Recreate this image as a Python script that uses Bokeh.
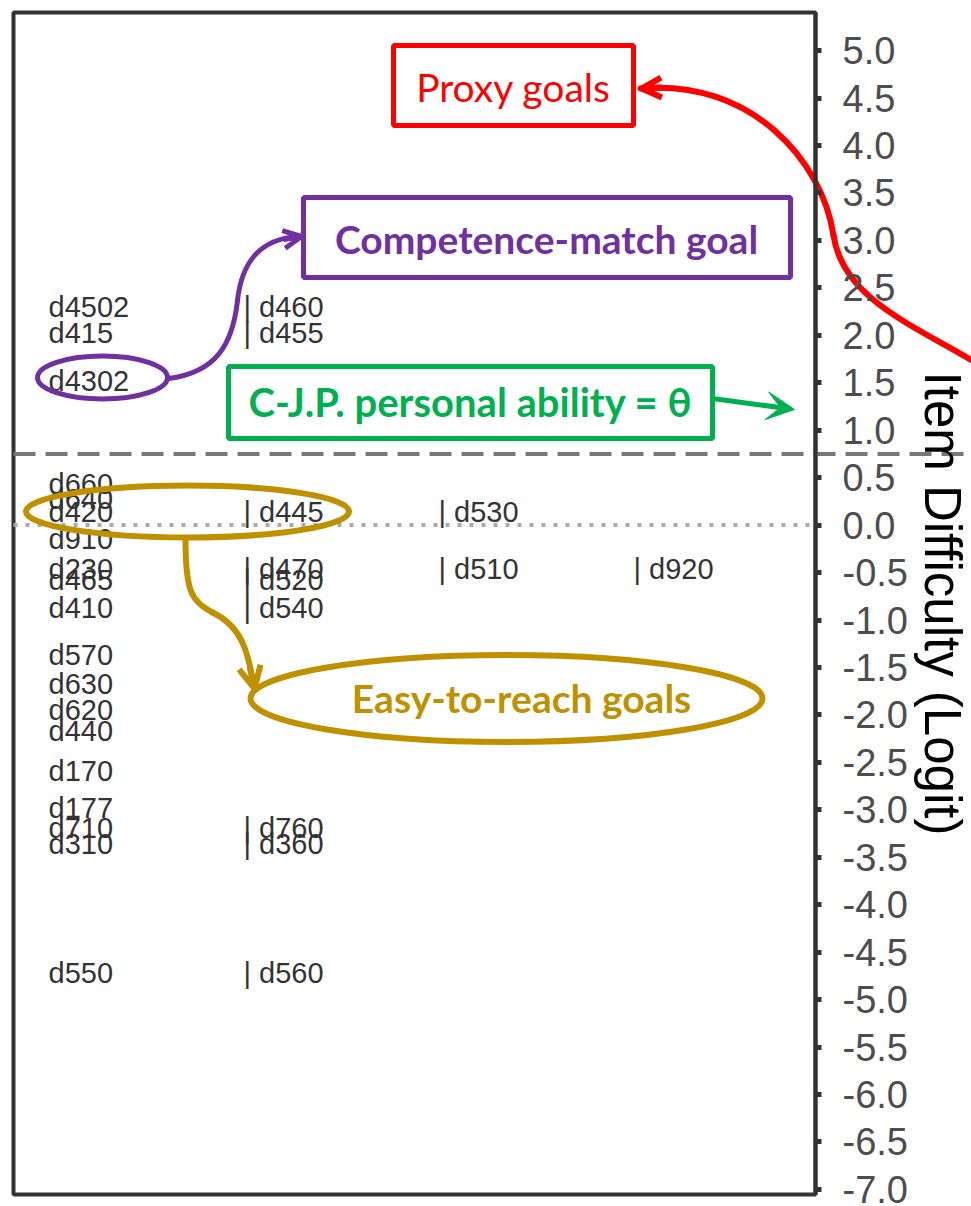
import numpy as np
from bokeh.plotting import figure
from bokeh.models import (Range1d, FixedTicker, PrintfTickFormatter, Label, Arrow,
                          OpenHead, VeeHead, ColumnDataSource)
from bokeh.core.properties import value
from bokeh.embed import file_html
from bokeh.resources import INLINE

# ---------------- data ----------------
col1_labels = ["d4502", "d415", "d4302", "d660", "d640", "d420", "d910", "d230", "d465",
               "d410", "d570", "d630", "d620", "d440", "d170", "d177", "d710", "d310", "d550"]
col1_logits = [2.30, 2.02, 1.52, 0.43, 0.28, 0.14, -0.15, -0.46, -0.58,
               -0.87, -1.37, -1.67, -1.95, -2.17, -2.59, -2.98, -3.19, -3.36, -4.72]
col2_labels = ["d460", "d455", "d445", "d470", "d520", "d540", "d760", "d360", "d560"]
col2_logits = [2.30, 2.02, 0.14, -0.46, -0.58, -0.87, -3.19, -3.36, -4.72]
col3_labels = ["d530", "d510"]
col3_logits = [0.14, -0.46]
col4_labels = ["d920"]
col4_logits = [-0.46]
person_ability = 0.75
zero_line = 0.0
tick_values = [5.0, 4.5, 4.0, 3.5, 3.0, 2.5, 2.0, 1.5, 1.0, 0.5, 0.0, -0.5, -1.0, -1.5,
               -2.0, -2.5, -3.0, -3.5, -4.0, -4.5, -5.0, -5.5, -6.0, -6.5, -7.0]
tick_labels = ["5.0", "4.5", "4.0", "3.5", "3.0", "2.5", "2.0", "1.5", "1.0", "0.5", "0.0",
               "-0.5", "-1.0", "-1.5", "-2.0", "-2.5", "-3.0", "-3.5", "-4.0", "-4.5",
               "-5.0", "-5.5", "-6.0", "-6.5", "-7.0"]

# ------------- helpers for annotation placement (page pixels -> data) -------------
def X(px):
    return (px - 48.0) / 195.0

def Y(py):
    return (524.6 - py) / 94.9

RED = "#ff0000"
PURPLE = "#7030a0"
GREEN = "#00b050"
GOLD = "#bf9000"
FRAME = "#333333"

p = figure(frame_width=971, frame_height=1206,
           x_range=Range1d(X(0), X(971)), y_range=Range1d(Y(1206), Y(0)),
           y_axis_location="right", x_axis_location=None,
           toolbar_location=None, output_backend="svg", min_border=0)
p.grid.visible = False
p.outline_line_color = None
p.background_fill_color = "white"
p.border_fill_color = "white"

# plot box (left / top / bottom borders; right side is the axis line)
p.quad(left=[X(13)], right=[X(815)], top=[Y(12)], bottom=[Y(1194)], fill_alpha=0,
       line_color=FRAME, line_width=4)

ax = p.yaxis[0]
ax.fixed_location = X(815)
ax.bounds = (Y(1194), Y(12))
ax.ticker = FixedTicker(ticks=tick_values)
ax.formatter = PrintfTickFormatter(format="%.1f")
ax.major_label_overrides = {v: l for v, l in zip(tick_values, tick_labels)}
ax.axis_line_width = 4
ax.axis_line_color = FRAME
ax.major_tick_line_width = 5
ax.major_tick_line_color = FRAME
ax.major_tick_out = 6
ax.major_tick_in = 0
ax.minor_tick_line_color = None
ax.major_label_standoff = 21
ax.major_label_text_font = "Liberation Sans"
ax.major_label_text_font_size = "38px"
ax.major_label_text_color = "#4d4d4d"

# reference lines
p.segment(x0=[X(13)], y0=[zero_line], x1=[X(815)], y1=[zero_line], line_color="#aaaaaa",
          line_width=4, line_dash="4 8")
p.segment(x0=[X(13)], y0=[person_ability], x1=[X(975)], y1=[person_ability],
          line_color="#777777", line_width=4, line_dash="22 10")

# item labels
cols = [(0, col1_labels, col1_logits, ""), (1, col2_labels, col2_logits, "| "),
        (2, col3_labels, col3_logits, "| "), (3, col4_labels, col4_logits, "| ")]
for ci, labs, vals, pre in cols:
    src = ColumnDataSource(dict(x=[ci] * len(labs), y=vals, t=[pre + s for s in labs]))
    p.text(x="x", y="y", text="t", source=src, text_font=value("Liberation Sans"),
           text_font_size="29px", text_color="#333333", text_baseline="middle",
           text_align="left")

# boxes
def box(l, r, t, b, color):
    p.quad(left=[X(l)], right=[X(r)], top=[Y(t)], bottom=[Y(b)], fill_alpha=0,
           line_color=color, line_width=5)

box(393, 633, 45, 125, RED)
box(303, 790, 197, 277, PURPLE)
box(228, 712, 366, 438, GREEN)

def txt(px, py, s, color, size, bold):
    p.text(x=[X(px)], y=[Y(py)], text=[s], text_font=value("Lato"), text_font_size=size,
           text_color=color, text_align="center", text_baseline="middle",
           text_font_style="bold" if bold else "normal")

txt(513, 86, "Proxy goals", RED, "39px", False)
txt(546, 238, "Competence-match goal", PURPLE, "39px", True)
txt(470, 401, "C-J.P. personal ability = θ", GREEN, "40px", True)
txt(521, 697, "Easy-to-reach goals", GOLD, "39px", True)

# ellipses
def ell(cx, cy, w, h, color, lw):
    p.ellipse(x=[X(cx)], y=[Y(cy)], width=w, height=h, width_units="screen",
              height_units="screen", fill_alpha=0, line_color=color, line_width=lw)

ell(102, 377, 130, 43, PURPLE, 5)
ell(187, 511, 323, 52, GOLD, 6)
ell(506, 698, 512, 87, GOLD, 6)

# curves
def bez(p0, c0, c1, p1, color, lw):
    p.bezier(x0=[X(p0[0])], y0=[Y(p0[1])], x1=[X(p1[0])], y1=[Y(p1[1])],
             cx0=[X(c0[0])], cy0=[Y(c0[1])], cx1=[X(c1[0])], cy1=[Y(c1[1])],
             line_color=color, line_width=lw, line_cap="round")

bez((168, 378), (215, 372), (232, 345), (237, 300), PURPLE, 5)
bez((237, 300), (242, 255), (265, 238), (298, 236), PURPLE, 5)
bez((185, 538), (185, 590), (190, 600), (212, 612), GOLD, 6)
bez((212, 612), (240, 625), (248, 650), (253, 686), GOLD, 6)
bez((640, 88), (750, 78), (822, 160), (833, 235), RED, 6)
bez((833, 235), (843, 300), (915, 325), (985, 368), RED, 6)

# arrow heads
p.add_layout(Arrow(x_start=X(662), y_start=Y(87), x_end=X(641), y_end=Y(88),
                   end=OpenHead(size=20, line_color=RED, line_width=6),
                   line_color=RED, line_width=6))
p.add_layout(Arrow(x_start=X(283), y_start=Y(239), x_end=X(301), y_end=Y(236),
                   end=OpenHead(size=18, line_color=PURPLE, line_width=5),
                   line_color=PURPLE, line_width=5))
p.add_layout(Arrow(x_start=X(249), y_start=Y(665), x_end=X(254), y_end=Y(688),
                   end=OpenHead(size=22, line_color=GOLD, line_width=6),
                   line_color=GOLD, line_width=6))
p.add_layout(Arrow(x_start=X(712), y_start=Y(398), x_end=X(794), y_end=Y(409),
                   end=VeeHead(size=28, fill_color=GREEN, line_color=GREEN, line_width=1),
                   line_color=GREEN, line_width=5))

# axis title (rotated, reading top to bottom)
p.add_layout(Label(x=X(942), y=Y(603), text="Item Difficulty (Logit)", angle=-np.pi / 2,
                   text_align="center", text_baseline="alphabetic",
                   text_font="Liberation Sans", text_font_size="51px", text_color="black"))

open("out.html", "w").write(file_html(p, INLINE))
